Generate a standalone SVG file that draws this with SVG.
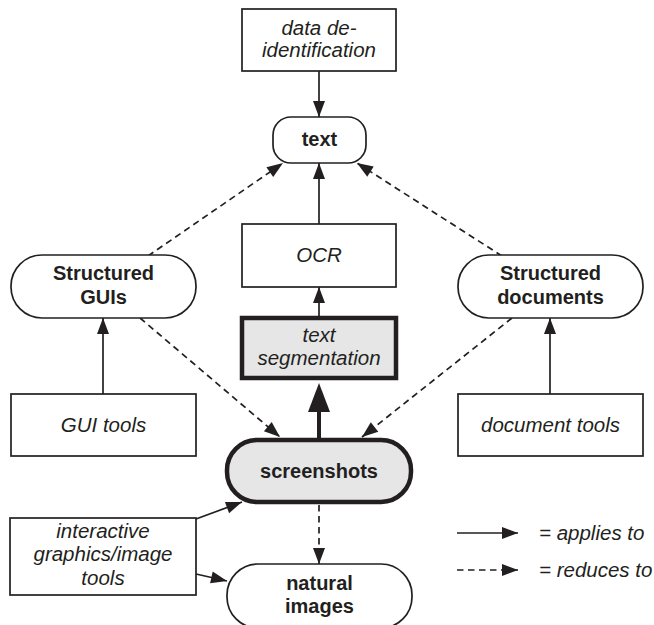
<svg xmlns="http://www.w3.org/2000/svg" width="654" height="625" viewBox="0 0 654 625">
  <style>
    .box { fill: #ffffff; stroke: #231f20; stroke-width: 1.7; }
    .hl { fill: #e6e6e7; stroke: #231f20; stroke-width: 4.5; }
    .lbl { font-family: "Liberation Sans", Arial, sans-serif; font-size: 20.5px; font-style: italic; fill: #231f20; text-anchor: middle; }
    .name { font-family: "Liberation Sans", Arial, sans-serif; font-size: 20px; font-weight: bold; fill: #231f20; text-anchor: middle; }
    .leg { font-family: "Liberation Sans", Arial, sans-serif; font-size: 20.5px; font-style: italic; fill: #231f20; }
    .solid { stroke: #231f20; stroke-width: 1.7; fill: none; marker-end: url(#head); }
    .dash { stroke: #231f20; stroke-width: 1.7; fill: none; stroke-dasharray: 6.5 4.5; marker-end: url(#head); }
    .thick { stroke: #231f20; stroke-width: 4; fill: none; marker-end: url(#bighead); }
  </style>
  <defs>
    <marker id="head" markerUnits="userSpaceOnUse" markerWidth="17" markerHeight="13" refX="16" refY="6" orient="auto" overflow="visible">
      <path d="M0,0 L16,6 L0,12 z" fill="#231f20" stroke="none"/>
    </marker>
    <marker id="bighead" markerUnits="userSpaceOnUse" markerWidth="30" markerHeight="23" refX="17" refY="11" orient="auto" overflow="visible">
      <path d="M0,0 L29,11 L0,22 z" fill="#231f20" stroke="none"/>
    </marker>
  </defs>

  <rect width="654" height="625" fill="#ffffff"/>

  <!-- connectors -->
  <g id="connectors">
    <line class="solid" x1="319" y1="71" x2="319" y2="117"/>
    <line class="solid" x1="319" y1="224" x2="319" y2="163"/>
    <line class="solid" x1="319" y1="316" x2="319" y2="287"/>
    <line class="thick" x1="319" y1="438" x2="319" y2="395"/>
    <line class="dash" x1="148" y1="256" x2="283" y2="163"/>
    <line class="dash" x1="502" y1="256" x2="357" y2="163"/>
    <line class="dash" x1="140" y1="318" x2="280" y2="437"/>
    <line class="dash" x1="512" y1="318" x2="362" y2="437"/>
    <line class="dash" x1="319" y1="505" x2="319" y2="564"/>
    <line class="solid" x1="103" y1="394" x2="103" y2="318"/>
    <line class="solid" x1="550" y1="394" x2="550" y2="318"/>
    <line class="solid" x1="196" y1="519" x2="242" y2="502"/>
    <line class="solid" x1="196" y1="574" x2="227" y2="581"/>
  </g>

  <!-- nodes -->
  <g id="deid">
    <rect class="box" x="242" y="9" width="154" height="62"/>
    <text class="lbl" x="319" y="35">data de-</text>
    <text class="lbl" x="319" y="57">identification</text>
  </g>
  <g id="text">
    <rect class="box" x="273" y="117" width="93" height="46" rx="18"/>
    <text class="name" x="319.5" y="146">text</text>
  </g>
  <g id="ocr">
    <rect class="box" x="242" y="224" width="154" height="63"/>
    <text class="lbl" x="319" y="262">OCR</text>
  </g>
  <g id="segmentation">
    <rect class="hl" x="242" y="318" width="154" height="60"/>
    <text class="lbl" x="319" y="342">text</text>
    <text class="lbl" x="319" y="365">segmentation</text>
  </g>
  <g id="gui">
    <rect class="box" x="11" y="255" width="185" height="63" rx="31"/>
    <text class="name" x="103.5" y="280">Structured</text>
    <text class="name" x="103.5" y="304">GUIs</text>
  </g>
  <g id="documents">
    <rect class="box" x="458" y="255" width="185" height="63" rx="31"/>
    <text class="name" x="550.5" y="280">Structured</text>
    <text class="name" x="550.5" y="304">documents</text>
  </g>
  <g id="gui-tools">
    <rect class="box" x="11" y="394" width="185" height="62"/>
    <text class="lbl" x="103.5" y="432">GUI tools</text>
  </g>
  <g id="document-tools">
    <rect class="box" x="458" y="394" width="185" height="62"/>
    <text class="lbl" x="550.5" y="432">document tools</text>
  </g>
  <g id="screenshots">
    <rect class="hl" x="227" y="440" width="184" height="62" rx="30"/>
    <text class="name" x="319" y="478">screenshots</text>
  </g>
  <g id="interactive">
    <rect class="box" x="10" y="518" width="186" height="77"/>
    <text class="lbl" x="103" y="538">interactive</text>
    <text class="lbl" x="103" y="561">graphics/image</text>
    <text class="lbl" x="103" y="585">tools</text>
  </g>
  <g id="natural">
    <rect class="box" x="227" y="564" width="185" height="64" rx="31"/>
    <text class="name" x="319.5" y="590">natural</text>
    <text class="name" x="319.5" y="613">images</text>
  </g>

  <!-- legend -->
  <g id="legend">
    <line class="solid" x1="457" y1="533" x2="518" y2="533"/>
    <text class="leg" x="539" y="540">= applies to</text>
    <line class="dash" x1="457" y1="570" x2="518" y2="570"/>
    <text class="leg" x="539" y="577">= reduces to</text>
  </g>
</svg>
